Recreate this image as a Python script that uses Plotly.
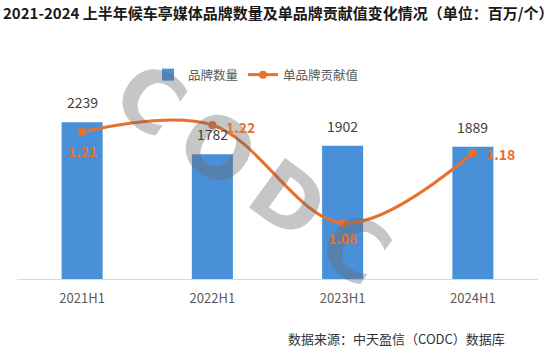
import plotly.graph_objects as go

categories = ["2021H1", "2022H1", "2023H1", "2024H1"]
brand_counts = [2239, 1782, 1902, 1889]
contrib_values = [1.21, 1.22, 1.08, 1.18]
# label offsets for line labels (pixels): (xshift, yshift)
contrib_label_pos = [(0, -19), (28, -2), (0, -15), (28, -1)]

TITLE = "2021-2024 上半年候车亭媒体品牌数量及单品牌贡献值变化情况（单位：百万/个）"
SOURCE = "数据来源：中天盈信（CODC）数据库"
BAR_NAME = "品牌数量"
LINE_NAME = "单品牌贡献值"

FONT = "Noto Sans CJK SC"
BAR_COLOR = "#4A90D9"
LINE_COLOR = "#E8702D"

W, H = 556, 355
ML, MR, MT, MB = 17, 18, 104, 76
PW, PH = W - ML - MR, H - MT - MB


def px_to_paper(px, py):
    return (px - ML) / PW, (H - MB - py) / PH


fig = go.Figure()
fig.add_trace(go.Bar(
    x=categories, y=brand_counts, name=BAR_NAME,
    marker=dict(color=BAR_COLOR, line=dict(width=0)),
    width=0.315, yaxis="y",
))
fig.add_trace(go.Scatter(
    x=categories, y=contrib_values, name=LINE_NAME, yaxis="y2",
    mode="lines+markers",
    line=dict(color=LINE_COLOR, width=3, shape="spline", smoothing=1.0),
    marker=dict(color=LINE_COLOR, size=8),
))

annotations = []
# watermark
wx, wy = px_to_paper(252, 174)
annotations.append(dict(
    x=wx, y=wy, xref="paper", yref="paper", text="<b>C\u2009O\u2009D\u2009C</b>",
    showarrow=False, textangle=36,
    font=dict(family="DejaVu Sans", size=84, color="rgba(105,105,105,0.38)"),
))
for c, v in zip(categories, brand_counts):
    annotations.append(dict(
        x=c, y=v, xref="x", yref="y", text=str(v), showarrow=False,
        yanchor="bottom", yshift=8,
        font=dict(family=FONT, size=14, color="#404040"),
    ))
for c, v, (dx, dy) in zip(categories, contrib_values, contrib_label_pos):
    annotations.append(dict(
        x=c, y=v, xref="x", yref="y2", text=f"<b>{v:.2f}</b>", showarrow=False,
        xshift=dx, yshift=dy,
        font=dict(family=FONT, size=14, color=LINE_COLOR),
    ))
sx, sy = px_to_paper(507, 338)
annotations.append(dict(
    x=sx, y=sy, xref="paper", yref="paper", text=SOURCE,
    showarrow=False, xanchor="right", yanchor="middle",
    font=dict(family=FONT, size=13, color="#333333"),
))

lx, ly = px_to_paper(148, 75)
fig.update_layout(
    width=W, height=H,
    margin=dict(l=ML, r=MR, t=MT, b=MB, autoexpand=False),
    paper_bgcolor="white", plot_bgcolor="white",
    title=dict(text=f"<b>{TITLE}</b>", x=3 / W, xanchor="left",
               y=1 - 14 / H, yanchor="middle", xref="container", yref="container",
               font=dict(family=FONT, size=15, color="#1a1a1a")),
    xaxis=dict(type="category", showgrid=False, showline=True, linecolor="#D9D9D9",
               linewidth=1, ticks="", ticklabelstandoff=7,
               tickfont=dict(family=FONT, size=13, color="#595959")),
    yaxis=dict(range=[0, 2500], visible=False, showgrid=False),
    yaxis2=dict(range=[1.0, 1.25], overlaying="y", side="right", visible=False, showgrid=False),
    legend=dict(orientation="h", x=lx, xanchor="left", y=ly, yanchor="middle",
                font=dict(family=FONT, size=12.5, color="#595959"), itemwidth=30,
                bgcolor="rgba(0,0,0,0)"),
    showlegend=True,
    annotations=annotations,
    bargap=0.685,
)

fig.write_html("out.html", config={"displayModeBar": False},
               post_script="document.body.style.margin='0';")
